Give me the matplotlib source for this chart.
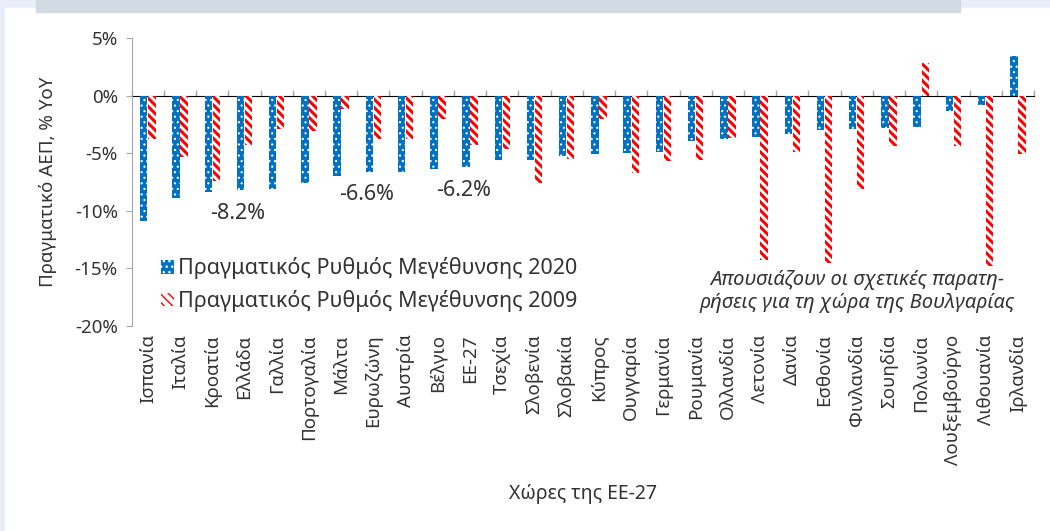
import numpy as np
import matplotlib.pyplot as plt
import matplotlib.patches as mpatches

plt.rcParams['font.family'] = ['Noto Sans', 'DejaVu Sans']

# Χώρες και ρυθμοί μεγέθυνσης (%)
countries = ["Ισπανία", "Ιταλία", "Κροατία", "Ελλάδα", "Γαλλία", "Πορτογαλία",
             "Μάλτα", "Ευρωζώνη", "Αυστρία", "Βέλγιο", "ΕΕ-27", "Τσεχία",
             "Σλοβενία", "Σλοβακία", "Κύπρος", "Ουγγαρία", "Γερμανία",
             "Ρουμανία", "Ολλανδία", "Λετονία", "Δανία", "Εσθονία",
             "Φινλανδία", "Σουηδία", "Πολωνία", "Λουξεμβούργο", "Λιθουανία",
             "Ιρλανδία"]
growth_2020 = [-10.9, -8.9, -8.4, -8.2, -8.1, -7.6, -7.0, -6.6, -6.6, -6.4,
               -6.2, -5.6, -5.6, -5.2, -5.1, -5.0, -4.9, -3.9, -3.8, -3.6,
               -3.3, -3.0, -2.9, -2.8, -2.7, -1.3, -0.8, 3.4]
growth_2009 = [-3.8, -5.3, -7.4, -4.3, -2.9, -3.1, -1.2, -3.8, -3.8, -2.0,
               -4.3, -4.6, -7.6, -5.5, -2.0, -6.7, -5.7, -5.6, -3.7, -14.3,
               -4.9, -14.5, -8.1, -4.4, 2.8, -4.4, -14.8, -5.1]
highlight = {"Ελλάδα": "-8.2%", "Ευρωζώνη": "-6.6%", "ΕΕ-27": "-6.2%"}

blue = "#0070C0"
red = "#FF0000"
grey = "#A6A6A6"
txt = "#333333"

fig = plt.figure(figsize=(10.5, 5.31), dpi=100)
fig.patch.set_facecolor("#E9EEF8")
# λευκό πλαίσιο και γκρι ταινία στην κορυφή
fig.add_artist(mpatches.Rectangle((5 / 1050, 0), 1, 1 - 8 / 531,
                                  transform=fig.transFigure, color="white", zorder=-2))
fig.add_artist(mpatches.Rectangle((36 / 1050, 1 - 12 / 531), (960 - 36) / 1050, 12 / 531,
                                  transform=fig.transFigure, color="#D3DAE3", zorder=-1))

ax = fig.add_axes([131.7 / 1050, 1 - 326 / 531, (1034 - 131.7) / 1050, 288 / 531])
ax.set_facecolor("white")

x = np.arange(len(countries))
w = 0.23

with plt.rc_context({'hatch.linewidth': 0.8}):
    b1 = ax.bar(x - 0.125, growth_2020, w, facecolor=blue, edgecolor="white",
                hatch="...", linewidth=0, label="Πραγματικός Ρυθμός Μεγέθυνσης 2020")
with plt.rc_context({'hatch.linewidth': 2.2}):
    b2 = ax.bar(x + 0.125, growth_2009, w, facecolor="white", edgecolor=red,
                hatch="\\\\\\\\", linewidth=0, label="Πραγματικός Ρυθμός Μεγέθυνσης 2009")

ax.set_xlim(-0.5, len(countries) - 0.5)
ax.set_ylim(-20, 5)
ax.set_yticks([5, 0, -5, -10, -15, -20])
ax.set_yticklabels(["5%", "0%", "-5%", "-10%", "-15%", "-20%"])
ax.tick_params(axis="y", colors=grey, labelcolor=txt, labelsize=13.5, length=4, pad=6)

ax.set_xticks(x)
ax.set_xticklabels(countries, rotation=90, fontsize=13.5, color=txt)
ax.tick_params(axis="x", length=0, pad=6)

for s in ["top", "right", "bottom"]:
    ax.spines[s].set_visible(False)
ax.spines["left"].set_color(grey)

# γραμμή μηδέν με υποδιαιρέσεις
zero = ax.secondary_xaxis(0.8)
zero.set_xticks(np.arange(-0.5, len(countries), 1.0))
zero.set_xticklabels([])
zero.tick_params(axis="x", colors=grey, length=4, width=1)
zero.spines["bottom"].set_color(grey)
zero.spines["bottom"].set_linewidth(1.8)

for name, label in highlight.items():
    i = countries.index(name)
    ax.text(i - 0.2, growth_2020[i] - 2.0, label, ha="center", va="center",
            fontsize=15.5, color=txt)

ax.text(22.0, -17.0, "Απουσιάζουν οι σχετικές παρατη-\nρήσεις για τη χώρα της Βουλγαρίας",
        ha="center", va="center", fontsize=14.5, style="italic", color=txt,
        linespacing=1.2)

ax.set_ylabel("Πραγματικό ΑΕΠ, % YoY", fontsize=13.5, color=txt)
ax.yaxis.set_label_coords(-0.083, 0.5)
ax.set_xlabel("Χώρες της ΕΕ-27", fontsize=14, color=txt)
ax.xaxis.set_label_coords(0.5, -0.55)

ax.legend(handles=[b1, b2], loc="upper left", bbox_to_anchor=(0.023, 0.268),
          frameon=False, fontsize=15.5, handlelength=0.6, handleheight=0.6,
          handletextpad=0.2, labelspacing=0.5, labelcolor=txt,
          borderaxespad=0)

fig.savefig("out.png", dpi=100, facecolor=fig.get_facecolor())
